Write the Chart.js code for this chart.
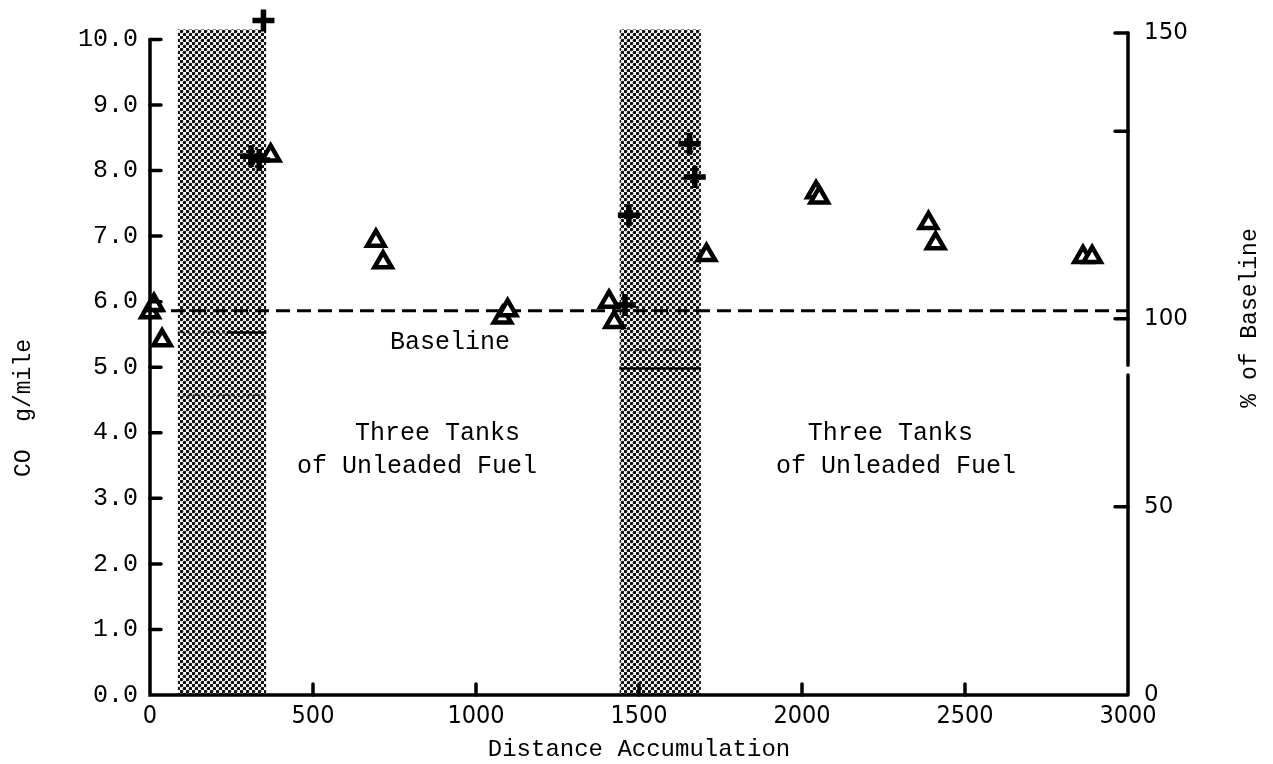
<!DOCTYPE html>
<html>
<head>
<meta charset="utf-8">
<script src="https://cdn.jsdelivr.net/npm/chart.js@4.4.1/dist/chart.umd.min.js"></script>
<style>
  html, body { margin: 0; padding: 0; background: #fff; }
  #wrap { width: 1273px; height: 764px; }
</style>
</head>
<body>
<div id="wrap"><canvas id="coChart"></canvas></div>
<script>
// values: CO g/mile against distance accumulation
var triangleX = [0, 12, 37, 370, 693, 715, 1081, 1097, 1408, 1424, 1707, 2043, 2053, 2388, 2410, 2862, 2890];
var triangleY = [5.84, 5.95, 5.41, 8.23, 6.93, 6.60, 5.76, 5.87, 6.00, 5.69, 6.71, 7.67, 7.59, 7.20, 6.89, 6.68, 6.68];
var plusX = [310, 335, 348, 1457, 1469, 1655, 1671];
var plusY = [8.22, 8.16, 10.29, 5.95, 7.32, 8.41, 7.90];
var baselineValue = 5.86;

// leaded fuel periods (shaded)
var shadeStart = [85, 1440];
var shadeEnd = [357, 1690];
var shadeTop = 10.15;
// short level marks inside the shaded bands: [from, to, value]
var solidMarks = [[235, 357, 5.53], [1440, 1690, 4.98]];
var dottedMarks = [[85, 235, 5.53], [85, 357, 4.57], [1440, 1690, 5.26]];

var xTicks = [0, 500, 1000, 1500, 2000, 2500, 3000];
var yTicks = [0, 1, 2, 3, 4, 5, 6, 7, 8, 9, 10];
var pctTickPos = [0, 2.87, 5.74, 8.6, 10.1];
var pctTickLabels = ['0', '50', '100', '', '150'];

var notes = [
    { text: 'Baseline', x: 736, y: 5.38 },
    { text: 'Three Tanks', x: 629, y: 3.99 },
    { text: 'of Unleaded Fuel', x: 451, y: 3.49 },
    { text: 'Three Tanks', x: 2018, y: 3.99 },
    { text: 'of Unleaded Fuel', x: 1920, y: 3.49 }
];

const mono = "'Liberation Mono', 'DejaVu Sans Mono', monospace";
const sans = "'DejaVu Sans', 'Liberation Sans', sans-serif";

const canvas = document.getElementById('coChart');
const ctx = canvas.getContext('2d');

function dotPattern() {
    const c = document.createElement('canvas');
    c.width = 6; c.height = 6;
    const g = c.getContext('2d');
    g.fillStyle = '#fff';
    g.fillRect(0, 0, 6, 6);
    g.fillStyle = '#111';
    [[1.5, 1.5], [4.5, 4.5]].forEach(p => {
        g.beginPath();
        g.arc(p[0], p[1], 1.8, 0, Math.PI * 2);
        g.fill();
    });
    return ctx.createPattern(c, 'repeat');
}
const shadeFill = dotPattern();

const datasets = [];
for (let i = 0; i < shadeStart.length; i++) {
    datasets.push({
        data: [
            { x: shadeStart[i], y: 0 }, { x: shadeStart[i], y: shadeTop },
            { x: shadeEnd[i], y: shadeTop }, { x: shadeEnd[i], y: 0 }
        ],
        showLine: true, fill: 'origin', borderWidth: 0, pointRadius: 0,
        backgroundColor: shadeFill, borderColor: 'rgba(0,0,0,0)', order: 5
    });
}
solidMarks.forEach(m => datasets.push({
    data: [{ x: m[0], y: m[2] }, { x: m[1], y: m[2] }],
    showLine: true, borderColor: '#000', borderWidth: 2.5, pointRadius: 0, order: 4
}));
dottedMarks.forEach(m => datasets.push({
    data: [{ x: m[0], y: m[2] }, { x: m[1], y: m[2] }],
    showLine: true, borderColor: '#222', borderWidth: 2, borderDash: [2, 3], pointRadius: 0, order: 4
}));
datasets.push({
    data: [{ x: 0, y: baselineValue }, { x: 3000, y: baselineValue }],
    showLine: true, borderColor: '#000', borderWidth: 3, borderDash: [14, 7], pointRadius: 0, order: 3
});
datasets.push({
    data: triangleX.map((x, i) => ({ x: x, y: triangleY[i] })),
    pointStyle: 'triangle', pointRadius: 10, borderWidth: 4.5,
    borderColor: '#000', backgroundColor: '#fff', clip: false, order: 1
});
datasets.push({
    data: plusX.map((x, i) => ({ x: x, y: plusY[i] })),
    pointStyle: 'cross', pointRadius: 11, borderWidth: 5.5,
    borderColor: '#000', clip: false, order: 0
});

// axis lines and inward tick marks, plus the free text
const axisPlugin = {
    id: 'axisPlugin',
    afterDraw(chart) {
        const c = chart.ctx;
        const xs = chart.scales.x, ys = chart.scales.y;
        const a = chart.chartArea;
        const y0 = ys.getPixelForValue(0);
        c.save();
        c.strokeStyle = '#000';
        c.lineWidth = 3.5;
        c.lineCap = 'round';
        c.beginPath();
        c.moveTo(a.left, ys.getPixelForValue(10));
        c.lineTo(a.left, y0);
        c.lineTo(a.right, y0);
        c.moveTo(a.right, y0);
        c.lineTo(a.right, ys.getPixelForValue(4.88));
        c.moveTo(a.right, ys.getPixelForValue(5.03));
        c.lineTo(a.right, ys.getPixelForValue(10.1));
        c.stroke();
        c.lineWidth = 3.5;
        c.beginPath();
        yTicks.forEach(v => {
            if (v === 0) return;
            const p = ys.getPixelForValue(v);
            c.moveTo(a.left, p); c.lineTo(a.left + 11, p);
        });
        xTicks.forEach(v => {
            if (v === 0 || v === 3000) return;
            const p = xs.getPixelForValue(v);
            c.moveTo(p, y0); c.lineTo(p, y0 - 11);
        });
        pctTickPos.forEach(v => {
            if (v === 0) return;
            const p = ys.getPixelForValue(v);
            c.moveTo(a.right - 13, p); c.lineTo(a.right, p);
        });
        c.stroke();

        c.fillStyle = '#000';
        c.font = '25px ' + mono;
        c.textAlign = 'left';
        c.textBaseline = 'middle';
        notes.forEach(n => c.fillText(n.text, xs.getPixelForValue(n.x), ys.getPixelForValue(n.y)));

        c.textAlign = 'center';
        c.save();
        c.translate(24, 408);
        c.rotate(-Math.PI / 2);
        c.font = '23px ' + mono;
        c.fillText('CO  g/mile', 0, 0);
        c.restore();
        c.save();
        c.translate(1250, 318);
        c.rotate(-Math.PI / 2);
        c.font = '23px ' + mono;
        c.fillText('% of Baseline', 0, 0);
        c.restore();
        c.restore();
    }
};

function noPadV(s, w) { s.width = w; s.paddingTop = 0; s.paddingBottom = 0; }

new Chart(canvas, {
    type: 'scatter',
    data: { datasets: datasets },
    options: {
        responsive: true,
        maintainAspectRatio: false,
        animation: false,
        layout: { padding: { top: 16, left: 0, right: 0, bottom: 0 } },
        plugins: { legend: { display: false }, tooltip: { enabled: false } },
        scales: {
            x: {
                type: 'linear', min: 0, max: 3000,
                grid: { display: true, drawOnChartArea: false, drawTicks: false },
                border: { display: false },
                afterFit: s => { s.height = 69; s.paddingLeft = 0; s.paddingRight = 0; },
                afterBuildTicks: s => { s.ticks = xTicks.map(v => ({ value: v })); },
                ticks: {
                    color: '#000', padding: 6, maxRotation: 0, autoSkip: false,
                    callback: v => String(v),
                    font: { family: "'DejaVu Sans Condensed', 'Liberation Sans Narrow', 'Liberation Sans', sans-serif", size: 25 }
                },
                title: {
                    display: true, text: 'Distance Accumulation', color: '#000',
                    font: { family: mono, size: 24 }, padding: { top: 0, bottom: 0 }
                }
            },
            y: {
                type: 'linear', position: 'left', min: 0, max: 10.35,
                grid: { display: true, drawOnChartArea: false, drawTicks: false },
                border: { display: false },
                afterFit: s => noPadV(s, 150),
                afterBuildTicks: s => { s.ticks = yTicks.map(v => ({ value: v })); },
                ticks: {
                    color: '#000', padding: 12, autoSkip: false,
                    callback: v => v.toFixed(1),
                    font: { family: mono, size: 25 }
                }
            },
            y2: {
                type: 'linear', position: 'right', min: 0, max: 10.35,
                grid: { display: true, drawOnChartArea: false, drawTicks: false },
                border: { display: false },
                afterFit: s => noPadV(s, 145),
                afterBuildTicks: s => { s.ticks = pctTickPos.map(v => ({ value: v })); },
                ticks: {
                    color: '#000', padding: 16, autoSkip: false,
                    callback: (v, i) => pctTickLabels[i],
                    font: { family: sans, size: 23 }
                }
            }
        }
    },
    plugins: [axisPlugin]
});
</script>
</body>
</html>
